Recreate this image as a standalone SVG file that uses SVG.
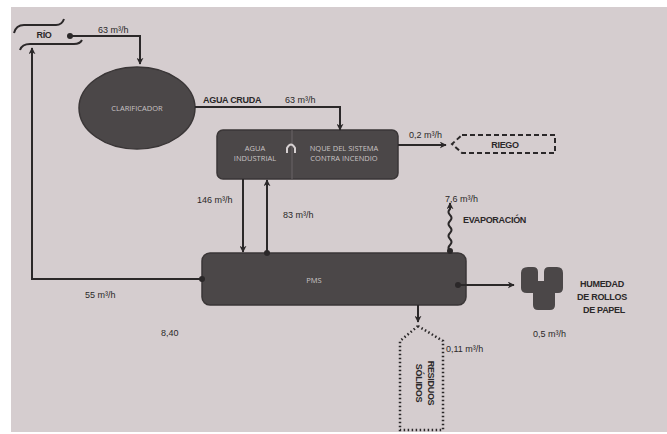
<svg xmlns="http://www.w3.org/2000/svg" width="667" height="434" viewBox="0 0 667 434">
<defs>
<style>
.ln{fill:none;stroke:#2b2829;stroke-width:2}
.node{fill:#4b4748;stroke:#3a3637;stroke-width:1.5}
.in{font-family:"Open Sans","Liberation Sans",sans-serif;font-size:7.5px;fill:#c9c3c4;text-anchor:middle}
.lb{font-family:"Liberation Sans",Arial,sans-serif;font-size:9px;fill:#2b2829}
.bd{font-family:"Liberation Sans",Arial,sans-serif;font-size:9px;font-weight:bold;fill:#2b2829;letter-spacing:-0.3px}
.dot{fill:#2b2829}
</style>
<marker id="ah" viewBox="0 0 10 10" refX="9" refY="5" markerWidth="7" markerHeight="7" orient="auto" markerUnits="userSpaceOnUse">
<path d="M0,0 L10,5 L0,10 L3,5 Z" fill="#2b2829"/>
</marker>
</defs>
<rect width="667" height="434" fill="#ffffff"/>
<rect x="11" y="7" width="656" height="425" fill="#d5cdcf"/>

<g id="rio">
<path class="ln" d="M14,33 Q16,25 24,25 L56,25 Q62,25 64,19"/>
<path class="ln" d="M20,50 Q22,44 30,44 L74,44 Q80,44 82,40"/>
<text class="bd" x="44" y="38" text-anchor="middle">RÍO</text>
</g>

<g id="clarificador">
<ellipse class="node" cx="137" cy="108" rx="58" ry="41"/>
<text class="in" x="137" y="111">CLARIFICADOR</text>
</g>

<g id="tanque">
<rect class="node" x="217" y="130" width="181" height="49" rx="6"/>
<line x1="292" y1="130" x2="292" y2="179" stroke="#6a6566" stroke-width="1"/>
<text class="in" x="255" y="151">AGUA</text>
<text class="in" x="255" y="161">INDUSTRIAL</text>
<path d="M287,153 L287,148 Q291,141 295,148 L295,153" fill="none" stroke="#d6d0d1" stroke-width="2"/>
<text class="in" x="344" y="151">NQUE DEL SISTEMA</text>
<text class="in" x="344" y="161">CONTRA INCENDIO</text>
</g>

<g id="riego">
<path d="M462,135 L555,135 L555,153 L462,153 L452,144 Z" fill="none" stroke="#2b2829" stroke-width="2" stroke-dasharray="5,3"/>
<text class="bd" x="505" y="148" text-anchor="middle">RIEGO</text>
</g>

<g id="pms">
<rect class="node" x="202" y="253" width="264" height="52" rx="8"/>
<text class="in" x="314" y="283" font-size="9">PMS</text>
</g>

<g id="rollos">
<path d="M528,267 L533,267 Q538,267 538,272 L538,281 L544,281 L544,272 Q544,267 549,267 L557,267 Q563,267 563,273 L563,288 Q563,293 558,293 L555,293 L555,305 Q555,310 550,310 L538,310 Q533,310 533,305 L533,293 L527,293 Q521,293 521,288 L521,273 Q521,267 528,267 Z" fill="#4b4748"/>
<text class="bd" x="602" y="287" text-anchor="middle">HUMEDAD</text>
<text class="bd" x="602" y="300" text-anchor="middle">DE ROLLOS</text>
<text class="bd" x="604" y="313" text-anchor="middle">DE PAPEL</text>
</g>

<g id="residuos">
<path d="M418,326 L443,341 L443,430 L400,430 L400,341 Z" fill="none" stroke="#2b2829" stroke-width="2.5" stroke-dasharray="1.5,2.5"/>
<text class="bd" transform="translate(428,383) rotate(90)" text-anchor="middle">RESIDUOS</text>
<text class="bd" transform="translate(416,383) rotate(90)" text-anchor="middle">SÓLIDOS</text>
</g>

<g id="connectors">
<circle class="dot" cx="70" cy="36" r="3"/>
<path class="ln" d="M70,36 L140,36 L140,64" marker-end="url(#ah)"/>
<path class="ln" d="M195,107 L340,107 L340,130" marker-end="url(#ah)"/>
<path class="ln" d="M398,145 L446,145" marker-end="url(#ah)"/>
<path class="ln" d="M243,179 L243,252" marker-end="url(#ah)"/>
<circle class="dot" cx="267" cy="253" r="3"/>
<path class="ln" d="M267,253 L267,180" marker-end="url(#ah)"/>
<circle class="dot" cx="450" cy="251" r="3"/>
<path class="ln" d="M450,251 q-3,-3 0,-6 q3,-3 0,-6 q-3,-3 0,-6 q3,-3 0,-6 q-3,-3 0,-6 q3,-3 0,-6 q-3,-3 0,-6 L450,203" marker-end="url(#ah)"/>
<circle class="dot" cx="458" cy="285" r="3"/>
<path class="ln" d="M458,285 L514,285" marker-end="url(#ah)"/>
<path class="ln" d="M418,305 L418,322" marker-end="url(#ah)"/>
<circle class="dot" cx="202" cy="279" r="3"/>
<path class="ln" d="M202,279 L32,279 L32,48" marker-end="url(#ah)"/>
</g>

<g id="labels">
<text class="lb" x="98" y="33">63 m³/h</text>
<text class="bd" x="203" y="103">AGUA CRUDA</text>
<text class="lb" x="285" y="103">63 m³/h</text>
<text class="lb" x="409" y="138">0,2 m³/h</text>
<text class="lb" x="197" y="203">146 m³/h</text>
<text class="lb" x="283" y="218">83 m³/h</text>
<text class="lb" x="445" y="202">7,6 m³/h</text>
<text class="bd" x="463" y="223">EVAPORACIÓN</text>
<text class="lb" x="85" y="298">55 m³/h</text>
<text class="lb" x="161" y="336">8,40</text>
<text class="lb" x="446" y="352">0,11 m³/h</text>
<text class="lb" x="533" y="337">0,5 m³/h</text>
</g>
</svg>
